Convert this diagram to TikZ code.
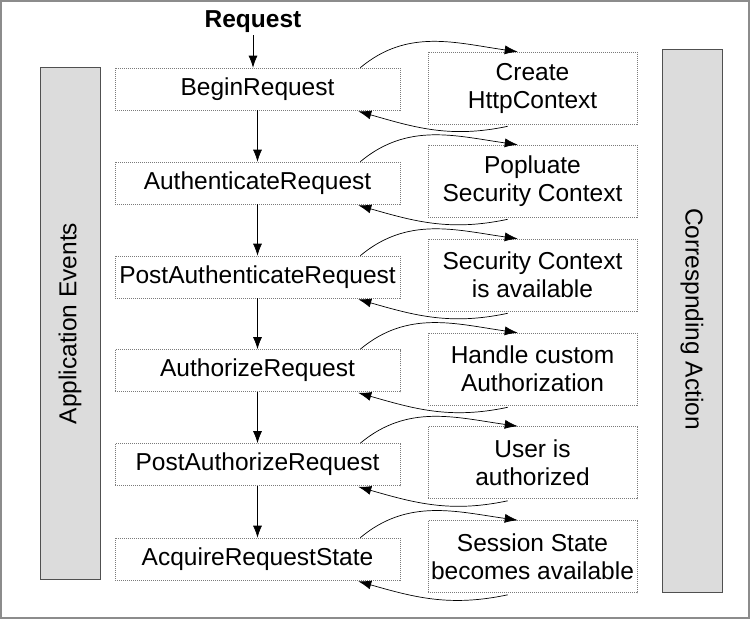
\documentclass[tikz,border=0pt]{standalone}
\usepackage{fontspec}
\setmainfont{Liberation Sans}
\usetikzlibrary{arrows.meta}
\definecolor{barfill}{HTML}{DCDCDC}
\definecolor{bardraw}{HTML}{505050}
\definecolor{framecol}{HTML}{8C8C8C}
\definecolor{boxline}{HTML}{7A7A7A}
\begin{document}
\begin{tikzpicture}[x=1pt,y=1pt,
  txt/.style={font=\fontsize{24.5}{28}\selectfont},
  evbox/.style={txt, draw=boxline, dash pattern=on 1pt off 1pt, line width=0.6pt,
    minimum width=285pt, minimum height=42pt, inner sep=0pt},
  actbox/.style={txt, draw=boxline, dash pattern=on 1pt off 1pt, line width=0.6pt,
    minimum width=209pt, minimum height=72pt, inner sep=0pt, align=center},
  bar/.style={fill=barfill, draw=bardraw, line width=1pt},
  flow/.style={-{Latex[length=12pt,width=9pt]}, line width=0.7pt},
  curv/.style={-{Latex[length=13pt,width=9pt]}, line width=0.7pt}]
\useasboundingbox (0,0) rectangle (752,-620);
\draw[draw=framecol, line width=1.5pt] (1,-1) rectangle (749,-618);

% side bars
\draw[bar] (40,-68) rectangle (100,-579);
\node[txt, rotate=90] (lbl) at (70,-323.5) {Application Events};
\draw[bar] (662,-50) rectangle (722,-592);
\node[txt, rotate=-90] (rlbl) at (692,-319) {Correspnding Action};

% request
\node[txt, font=\fontsize{24.5}{28}\selectfont\bfseries, inner sep=2pt] (req) at (253,-22) {Request};

% event boxes
\node[evbox] (e1) at (257.5,-89) {BeginRequest};
\node[evbox] (e2) at (257.5,-183) {AuthenticateRequest};
\node[evbox] (e3) at (257.5,-277) {PostAuthenticateRequest};
\node[evbox] (e4) at (257.5,-370.5) {AuthorizeRequest};
\node[evbox] (e5) at (257.5,-464.5) {PostAuthorizeRequest};
\node[evbox] (e6) at (257.5,-559) {AcquireRequestState};

% action boxes
\node[actbox] (a1) at (532.5,-88) {Create\\HttpContext};
\node[actbox] (a2) at (532.5,-181) {Popluate\\Security Context};
\node[actbox] (a3) at (532.5,-275) {Security Context\\is available};
\node[actbox] (a4) at (532.5,-369) {Handle custom\\Authorization};
\node[actbox] (a5) at (532.5,-462.5) {User is\\authorized};
\node[actbox] (a6) at (532.5,-556.5) {Session State\\becomes available};

% vertical flow
\draw[flow] (req.south) -- (req.south |- e1.north);
\draw[flow] (e1) -- (e2);
\draw[flow] (e2) -- (e3);
\draw[flow] (e3) -- (e4);
\draw[flow] (e4) -- (e5);
\draw[flow] (e5) -- (e6);

% curved exchanges
\foreach \i in {1,...,6}{
  \draw[curv] ([xshift=-40pt]e\i.north east) to[out=40,in=172] ([xshift=90pt]a\i.north west);
  \draw[curv] ([xshift=80pt,yshift=-2pt]a\i.south west) to[out=192,in=-16] ([xshift=-42pt,yshift=-1pt]e\i.south east);
}
\end{tikzpicture}
\end{document}
